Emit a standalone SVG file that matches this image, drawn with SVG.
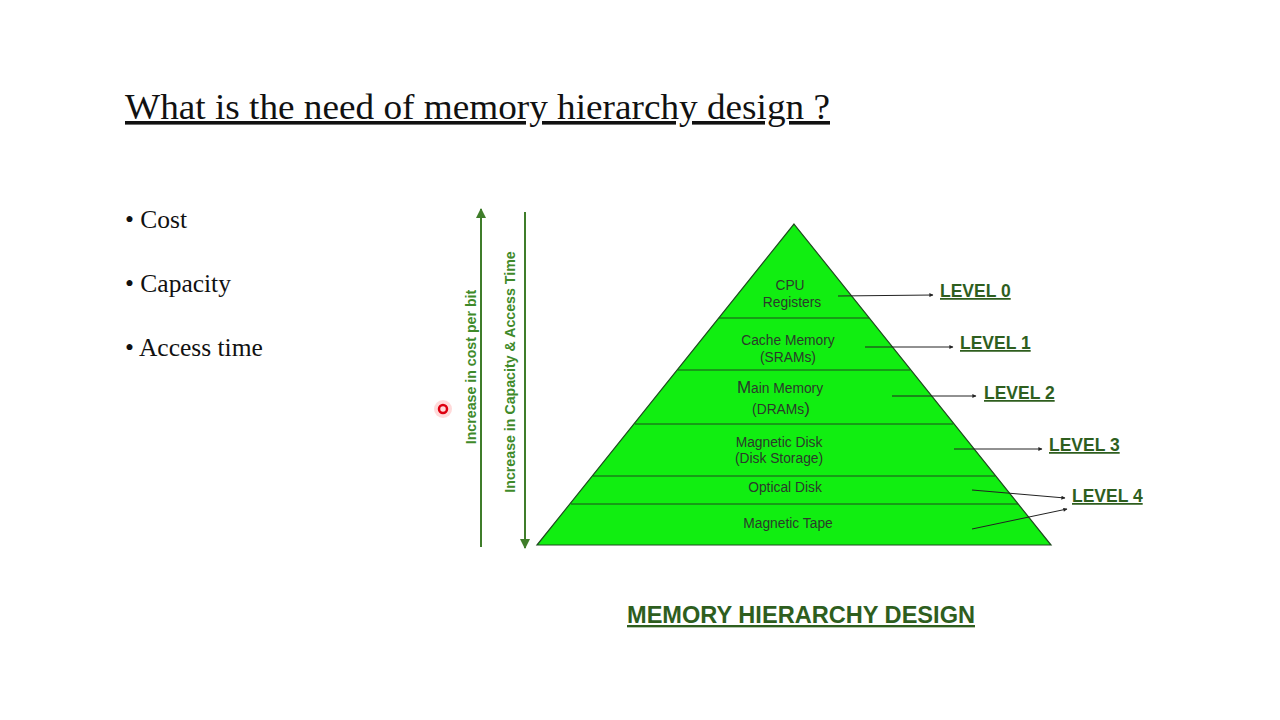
<svg xmlns="http://www.w3.org/2000/svg" width="1280" height="720" viewBox="0 0 1280 720">
<defs>
<marker id="bigArrow" viewBox="0 0 10 10" refX="9" refY="5" markerWidth="5" markerHeight="5" orient="auto" markerUnits="strokeWidth">
<path d="M0,0 L10,5 L0,10 z" fill="#3f7d2a"/>
</marker>
<marker id="smallArrow" viewBox="0 0 10 10" refX="9" refY="5" markerWidth="6" markerHeight="4" orient="auto" markerUnits="userSpaceOnUse">
<path d="M0,0 L10,5 L0,10 z" fill="#222"/>
</marker>
<style>
.serif{font-family:"Liberation Serif","Times New Roman",serif;fill:#111}
.band{font-family:"Liberation Sans",Arial,sans-serif;font-size:13.8px;fill:#2b3a2b;text-anchor:middle}
.lvl{font-family:"Liberation Sans",Arial,sans-serif;font-size:17.5px;font-weight:bold;fill:#2e5e1e;text-decoration:underline}
.vert{font-family:"Liberation Sans",Arial,sans-serif;font-size:14.2px;font-weight:bold;fill:#3f8a2a;text-anchor:middle}
.sep{stroke:#1f4a1f;stroke-width:1.2}
.conn{stroke:#222;stroke-width:1;fill:none;marker-end:url(#smallArrow)}
.varrow{stroke:#3f7d2a;stroke-width:2;fill:none;marker-end:url(#bigArrow)}
</style>
</defs>
<rect width="1280" height="720" fill="#ffffff"/>
<g id="title">
<text class="serif" x="125" y="119" font-size="36" textLength="705" lengthAdjust="spacingAndGlyphs" text-decoration="underline">What is the need of memory hierarchy design ?</text>
</g>
<g id="bullets">
<text class="serif" x="125" y="228" font-size="25.5">• Cost</text>
<text class="serif" x="125" y="292" font-size="25.5">• Capacity</text>
<text class="serif" x="125" y="356" font-size="25.5">• Access time</text>
</g>
<g id="pyramid">
<polygon points="794,224 1051,545 537,545" fill="#11ee11" stroke="#1f4a1f" stroke-width="1.2"/>
<line class="sep" x1="719" y1="318" x2="869" y2="318"/>
<line class="sep" x1="678" y1="370" x2="910" y2="370"/>
<line class="sep" x1="635" y1="424" x2="953" y2="424"/>
<line class="sep" x1="593" y1="476" x2="995" y2="476"/>
<line class="sep" x1="571" y1="504" x2="1018" y2="504"/>
</g>
<g id="level0">
<text class="band" x="790" y="290">CPU</text>
<text class="band" x="792" y="307">Registers</text>
<text class="lvl" x="940" y="297">LEVEL 0</text>
</g>
<g id="level1">
<text class="band" x="788" y="345">Cache Memory</text>
<text class="band" x="788" y="362">(SRAMs)</text>
<text class="lvl" x="960" y="349">LEVEL 1</text>
</g>
<g id="level2">
<text class="band" x="780" y="393"><tspan font-size="17">M</tspan>ain Memory</text>
<text class="band" x="781" y="414">(DRAMs<tspan font-size="17">)</tspan></text>
<text class="lvl" x="984" y="399">LEVEL 2</text>
</g>
<g id="level3">
<text class="band" x="779" y="447">Magnetic Disk</text>
<text class="band" x="779" y="463">(Disk Storage)</text>
<text class="lvl" x="1049" y="451">LEVEL 3</text>
</g>
<g id="level4">
<text class="band" x="785" y="492">Optical Disk</text>
<text class="band" x="788" y="528">Magnetic Tape</text>
<text class="lvl" x="1072" y="502">LEVEL 4</text>
</g>
<g id="axis-cost">
<text class="vert" transform="translate(476,367) rotate(-90)">Increase in cost per bit</text>
</g>
<g id="axis-capacity">
<text class="vert" transform="translate(515,372) rotate(-90)">Increase in Capacity &amp; Access Time</text>
</g>
<g id="connectors">
<line class="varrow" x1="481" y1="547" x2="481" y2="209"/>
<line class="varrow" x1="525" y1="212" x2="525" y2="548"/>
<line class="conn" x1="838" y1="296" x2="933" y2="295"/>
<line class="conn" x1="865" y1="347" x2="953" y2="347"/>
<line class="conn" x1="892" y1="396" x2="976" y2="396"/>
<line class="conn" x1="954" y1="449" x2="1042" y2="449"/>
<line class="conn" x1="972" y1="490" x2="1065" y2="498"/>
<line class="conn" x1="972" y1="529" x2="1067" y2="509"/>
</g>
<g id="caption">
<text x="627" y="623" font-family="Liberation Sans,Arial,sans-serif" font-size="23.5" font-weight="bold" fill="#2e5e1e" text-decoration="underline" textLength="348" lengthAdjust="spacingAndGlyphs">MEMORY HIERARCHY DESIGN</text>
</g>
<g id="pointer">
<circle cx="443" cy="409" r="9" fill="#ff3030" opacity="0.18"/>
<circle cx="443" cy="409" r="4" fill="none" stroke="#dd0010" stroke-width="2.5"/>
</g>
</svg>
